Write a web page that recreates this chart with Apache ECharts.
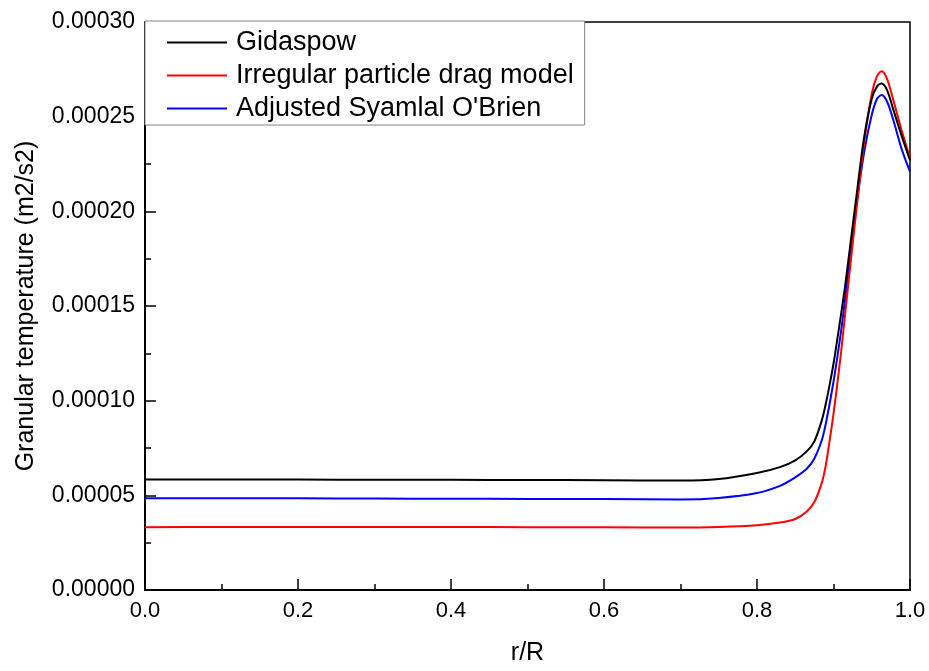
<!DOCTYPE html>
<html>
<head>
<meta charset="utf-8">
<script src="https://cdn.jsdelivr.net/npm/echarts@6/dist/echarts.min.js"></script>
<style>
html,body{margin:0;padding:0;background:#fff;}
#chart{width:929px;height:671px;}
</style>
</head>
<body>
<div id="chart"></div>
<script>
// r/R sample positions
var rValues = [0, 0.1, 0.2, 0.3, 0.4, 0.5, 0.6, 0.7, 0.75, 0.8, 0.83, 0.85, 0.865, 0.875, 0.885, 0.89, 0.895, 0.9, 0.905, 0.91, 0.915, 0.92, 0.93, 0.94, 0.95, 0.957, 0.963, 0.97, 0.978, 0.989, 1.0];
// Granular temperature (x 1e-5 m2/s2)
var gidaspow = [5.84, 5.84, 5.83, 5.82, 5.82, 5.81, 5.80, 5.78, 5.86, 6.18, 6.49, 6.85, 7.32, 7.85, 9.0, 9.85, 10.85, 11.95, 13.25, 14.6, 16.0, 17.6, 20.8, 23.9, 25.95, 26.6, 26.75, 26.4, 25.4, 24.0, 22.7];
var irregular = [3.32, 3.33, 3.33, 3.33, 3.33, 3.32, 3.31, 3.30, 3.33, 3.42, 3.56, 3.75, 4.15, 4.65, 5.7, 6.6, 7.9, 9.3, 10.9, 12.6, 14.5, 16.4, 20.1, 23.6, 26.2, 27.15, 27.4, 27.0, 25.9, 24.3, 22.8];
var adjusted = [4.85, 4.85, 4.84, 4.83, 4.82, 4.81, 4.80, 4.78, 4.86, 5.12, 5.50, 5.95, 6.4, 6.95, 7.95, 8.8, 9.85, 11.0, 12.3, 13.7, 15.3, 17.0, 20.3, 23.1, 25.1, 25.95, 26.15, 25.8, 24.85, 23.3, 22.1];
var seriesNames = ['Gidaspow', 'Irregular particle drag model', "Adjusted Syamlal O'Brien"];
var seriesColors = ['#000000', '#ff0000', '#0000ff'];

function pairs(vals) {
  return rValues.map(function (r, i) { return [r, vals[i] * 1e-5]; });
}

var FONT = '"Liberation Sans", Arial, sans-serif';
var chart = echarts.init(document.getElementById('chart'), null, {renderer: 'canvas'});
var allData = [gidaspow, irregular, adjusted];

chart.setOption({
  animation: false,
  backgroundColor: '#ffffff',
  grid: {
    left: 145, right: 19, top: 22, bottom: 78,
    show: true, borderColor: '#000', borderWidth: 1.5, backgroundColor: 'transparent'
  },
  legend: {
    orient: 'vertical',
    left: 145, top: 21,
    backgroundColor: '#ffffff',
    borderColor: '#808080',
    borderWidth: 1,
    padding: [8, 11, 3, 22],
    itemGap: 6,
    itemWidth: 60,
    itemHeight: 14,
    icon: 'path://M0,6 L60,6 L60,8 L0,8 Z',
    textStyle: {fontSize: 27, fontFamily: FONT, color: '#000', padding: [0, 0, 0, 4]},
    data: seriesNames.map(function (n, i) { return {name: n, itemStyle: {color: seriesColors[i]}}; })
  },
  xAxis: {
    type: 'value',
    min: 0, max: 1, interval: 0.2,
    name: 'r/R',
    nameLocation: 'middle',
    nameGap: 51,
    nameTextStyle: {fontSize: 25, fontFamily: FONT, color: '#000'},
    axisLine: {show: true, lineStyle: {color: '#000', width: 2}},
    axisTick: {show: true, inside: true, length: 11, lineStyle: {color: '#000', width: 1.5}},
    minorTick: {show: true, splitNumber: 2, length: 6, lineStyle: {color: '#000', width: 1.5}},
    splitLine: {show: false},
    axisLabel: {
      fontSize: 22, fontFamily: FONT, color: '#000', margin: 10,
      formatter: function (v) { return v.toFixed(1); }
    }
  },
  yAxis: {
    type: 'value',
    min: 0, max: 0.0003, interval: 0.00005,
    name: 'Granular temperature (m2/s2)',
    nameLocation: 'middle',
    nameGap: 106,
    nameTextStyle: {fontSize: 25, fontFamily: FONT, color: '#000'},
    axisLine: {show: true, lineStyle: {color: '#000', width: 2}},
    axisTick: {show: true, inside: true, length: 11, lineStyle: {color: '#000', width: 1.5}},
    minorTick: {show: true, splitNumber: 2, length: 6, lineStyle: {color: '#000', width: 1.5}},
    splitLine: {show: false},
    axisLabel: {
      fontSize: 23, fontFamily: FONT, color: '#000', margin: 10,
      formatter: function (v) { return v.toFixed(5); }
    }
  },
  series: seriesNames.map(function (n, i) {
    return {
      name: n,
      type: 'line',
      data: pairs(allData[i]),
      symbol: 'none',
      smooth: 0.3,
      lineStyle: {color: seriesColors[i], width: 2},
      itemStyle: {color: seriesColors[i]},
      z: 3 - i
    };
  })
});
</script>
</body>
</html>
